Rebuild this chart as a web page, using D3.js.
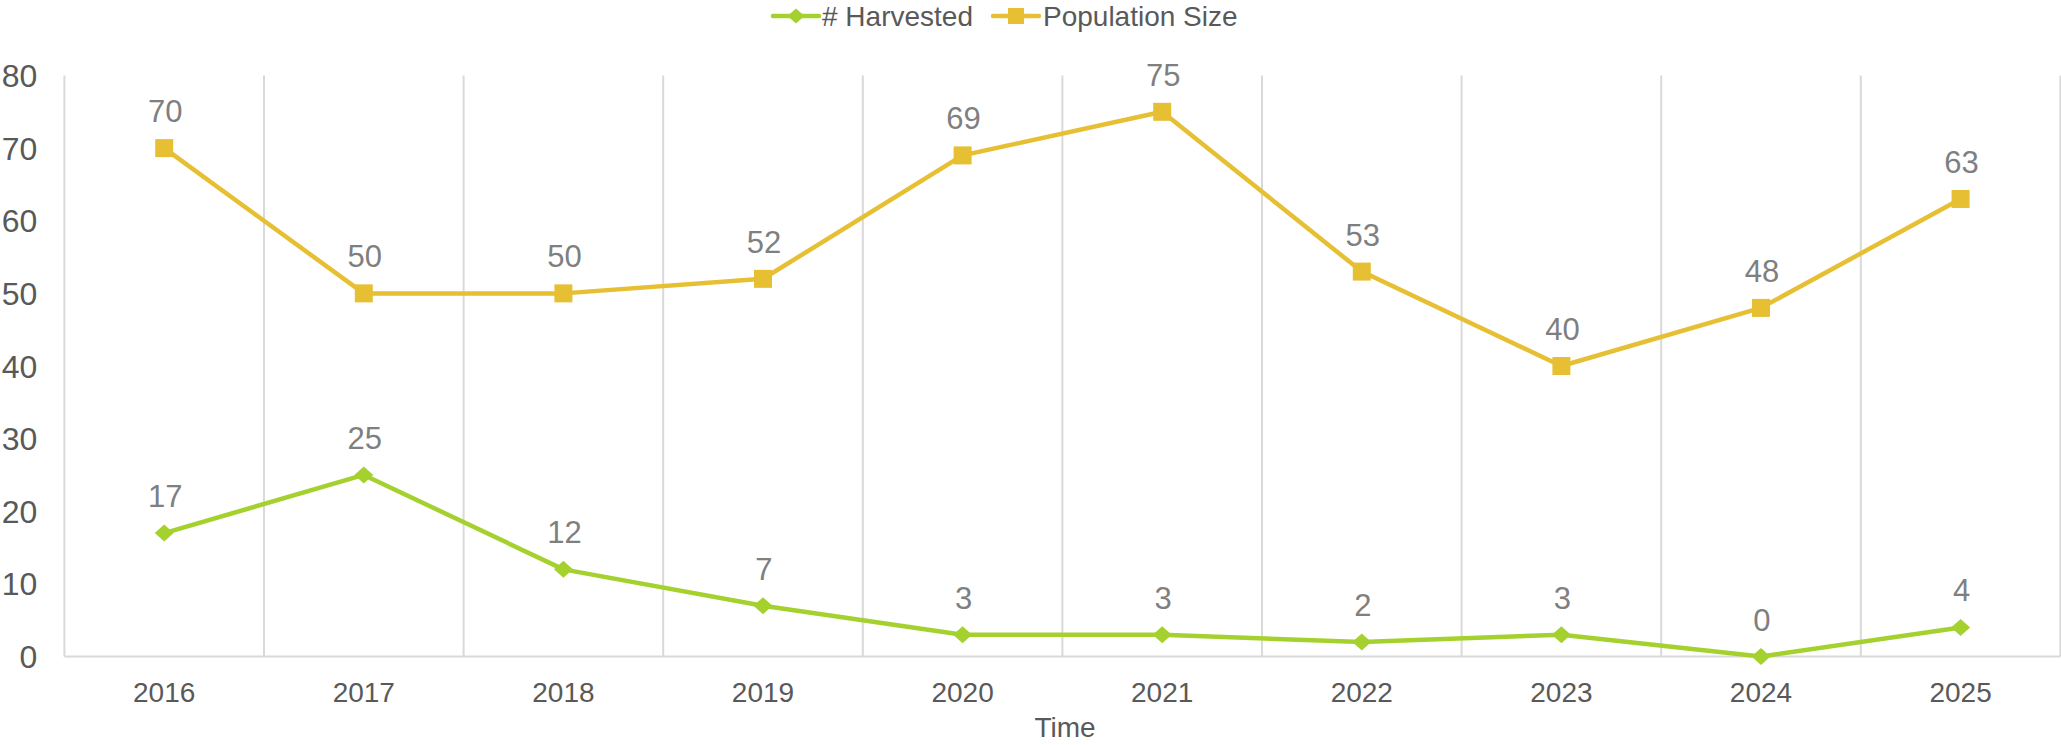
<!DOCTYPE html>
<meta charset="utf-8">
<html>
  <head>
    <style>
      body { margin: 0; background: #fff; font-family: "Liberation Sans", Arial, sans-serif; }
    </style>
  </head>
  <body>
    <div id="chart"></div>
  </body>
<script src="https://d3js.org/d3.v7.min.js"></script>
<script>
// data
var years = ["2016","2017","2018","2019","2020","2021","2022","2023","2024","2025"]
var harvested = [17, 25, 12, 7, 3, 3, 2, 3, 0, 4]
var population = [70, 50, 50, 52, 69, 75, 53, 40, 48, 63]
var yTicks = [0, 10, 20, 30, 40, 50, 60, 70, 80]

var W = 2061, H = 745
var margin = {top: 75.5, right: 0.6, bottom: 88.5, left: 64.4},
    width = W - margin.left - margin.right,
    height = H - margin.top - margin.bottom

var green = "#a5d12f", gold = "#e6bf33"

// wide diamond like the spreadsheet marker
function diamond(hw, hh) {
  return "M" + (-hw) + ",0L0," + (-hh) + "L" + hw + ",0L0," + hh + "Z"
}
function square(h) {
  return "M" + (-h) + "," + (-h) + "H" + h + "V" + h + "H" + (-h) + "Z"
}

var svg = d3.select("#chart").append("svg")
    .attr("width", W)
    .attr("height", H)

var g = svg.append("g")
    .attr("transform", "translate(" + margin.left + "," + margin.top + ")")

var x = d3.scaleBand().domain(years).range([0, width]).padding(0)
var y = d3.scaleLinear().domain([0, 80]).range([height, 0])

// vertical gridlines at category boundaries
var bounds = years.map(function(d) { return x(d) }).concat([width])
g.selectAll(".vgrid")
  .data(bounds)
  .enter().append("line")
    .attr("x1", function(d) { return d }).attr("x2", function(d) { return d })
    .attr("y1", 0).attr("y2", height)
    .style("stroke", "#d9d9d9").style("stroke-width", 2)

// bottom axis line
g.append("line")
  .attr("x1", 0).attr("x2", width)
  .attr("y1", height).attr("y2", height)
  .style("stroke", "#d9d9d9").style("stroke-width", 2)

// y tick labels
g.selectAll(".ytick")
  .data(yTicks)
  .enter().append("text")
    .attr("x", -27)
    .attr("y", function(d) { return y(d) })
    .attr("dy", "0.36em")
    .attr("text-anchor", "end")
    .style("font-size", "32px")
    .style("fill", "#595959")
    .text(function(d) { return d })

// x tick labels
g.selectAll(".xtick")
  .data(years)
  .enter().append("text")
    .attr("x", function(d) { return x(d) + x.bandwidth() / 2 })
    .attr("y", height + 45.5)
    .attr("text-anchor", "middle")
    .style("font-size", "28px")
    .style("fill", "#595959")
    .text(function(d) { return d })

// axis title
svg.append("text")
  .attr("x", 1065)
  .attr("y", 737)
  .attr("text-anchor", "middle")
  .style("font-size", "28px")
  .style("fill", "#595959")
  .text("Time")

var cx = function(d, i) { return x(years[i]) + x.bandwidth() / 2 }

var series = [
  {name: "# Harvested", values: harvested, color: green, marker: diamond(9.5, 8.5), legendMarker: diamond(8.5, 7.5)},
  {name: "Population Size", values: population, color: gold, marker: square(9), legendMarker: square(8)}
]

var line = d3.line()
  .x(function(d, i) { return cx(d, i) })
  .y(function(d) { return y(d) })

series.forEach(function(s) {
  g.append("path")
    .datum(s.values)
    .attr("d", line)
    .style("fill", "none")
    .style("stroke", s.color)
    .style("stroke-width", 4.5)
    .style("stroke-linejoin", "round")

  g.selectAll(null)
    .data(s.values)
    .enter().append("path")
      .attr("d", s.marker)
      .attr("transform", function(d, i) { return "translate(" + cx(d, i) + "," + y(d) + ")" })
      .style("fill", s.color)

  g.selectAll(null)
    .data(s.values)
    .enter().append("text")
      .attr("x", function(d, i) { return cx(d, i) + 1 })
      .attr("y", function(d) { return y(d) - 26 })
      .attr("text-anchor", "middle")
      .style("font-size", "31px")
      .style("fill", "#7f7f7f")
      .text(function(d) { return d })
})

// legend
var legendPos = [{lx: 773, tx: 822}, {lx: 993, tx: 1043}]
var legend = svg.selectAll(".legend")
  .data(series)
  .enter().append("g")
    .attr("transform", "translate(0,16)")

legend.append("line")
  .attr("x1", function(d, i) { return legendPos[i].lx })
  .attr("x2", function(d, i) { return legendPos[i].lx + 46 })
  .style("stroke", function(d) { return d.color })
  .style("stroke-width", 4.5)
  .style("stroke-linecap", "round")

legend.append("path")
  .attr("d", function(d) { return d.legendMarker })
  .attr("transform", function(d, i) { return "translate(" + (legendPos[i].lx + 23) + ",0)" })
  .style("fill", function(d) { return d.color })

legend.append("text")
  .attr("x", function(d, i) { return legendPos[i].tx })
  .attr("dy", "0.36em")
  .style("font-size", "28px")
  .style("fill", "#595959")
  .text(function(d) { return d.name })
</script>
</html>
